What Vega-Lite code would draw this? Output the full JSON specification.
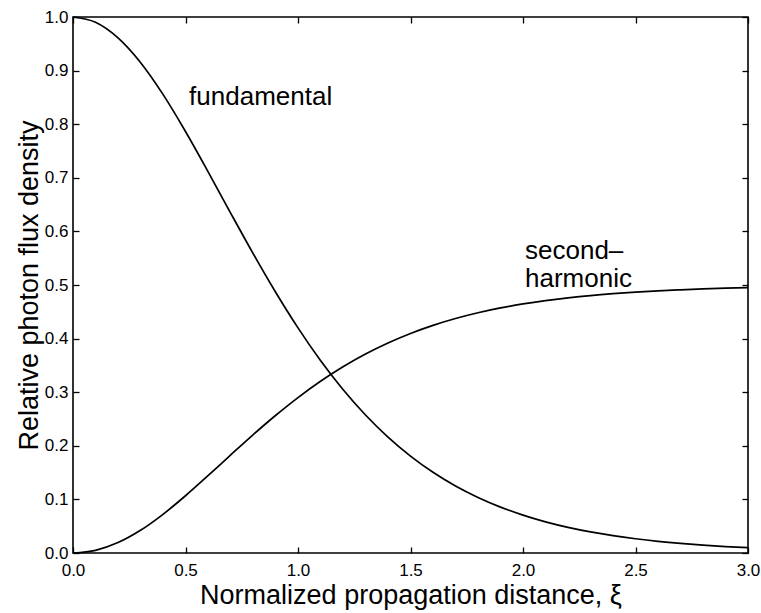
{
  "$schema": "https://vega.github.io/schema/vega-lite/v6.json",
  "autosize": "none",
  "width": 675,
  "height": 536,
  "padding": {"left": 73, "top": 17, "right": 13, "bottom": 60},
  "background": "white",
  "config": {
    "font": "Liberation Sans",
    "view": {"stroke": "black", "strokeWidth": 1.6},
    "axis": {
      "grid": false,
      "domain": false,
      "tickColor": "black",
      "tickWidth": 1.3,
      "tickSize": -6,
      "labelColor": "black",
      "labelFont": "Liberation Sans",
      "labelFontSize": 17,
      "labelFlush": false,
      "labelOverlap": false,
      "titleColor": "black",
      "titleFont": "Liberation Sans",
      "titleFontSize": 27,
      "titleFontWeight": "normal"
    }
  },
  "datasets": {
    "curves": [
      {"xi": 0.0, "value": 1.0, "series": "fundamental"},
      {"xi": 0.1, "value": 0.9901, "series": "fundamental"},
      {"xi": 0.2, "value": 0.961, "series": "fundamental"},
      {"xi": 0.3, "value": 0.9151, "series": "fundamental"},
      {"xi": 0.4, "value": 0.8556, "series": "fundamental"},
      {"xi": 0.5, "value": 0.7864, "series": "fundamental"},
      {"xi": 0.6, "value": 0.7116, "series": "fundamental"},
      {"xi": 0.7, "value": 0.6347, "series": "fundamental"},
      {"xi": 0.8, "value": 0.5591, "series": "fundamental"},
      {"xi": 0.9, "value": 0.4869, "series": "fundamental"},
      {"xi": 1.0, "value": 0.42, "series": "fundamental"},
      {"xi": 1.1, "value": 0.3592, "series": "fundamental"},
      {"xi": 1.2, "value": 0.305, "series": "fundamental"},
      {"xi": 1.3, "value": 0.2574, "series": "fundamental"},
      {"xi": 1.4, "value": 0.2162, "series": "fundamental"},
      {"xi": 1.5, "value": 0.1807, "series": "fundamental"},
      {"xi": 1.6, "value": 0.1505, "series": "fundamental"},
      {"xi": 1.7, "value": 0.125, "series": "fundamental"},
      {"xi": 1.8, "value": 0.1036, "series": "fundamental"},
      {"xi": 1.9, "value": 0.0856, "series": "fundamental"},
      {"xi": 2.0, "value": 0.0707, "series": "fundamental"},
      {"xi": 2.1, "value": 0.0582, "series": "fundamental"},
      {"xi": 2.2, "value": 0.0479, "series": "fundamental"},
      {"xi": 2.3, "value": 0.0394, "series": "fundamental"},
      {"xi": 2.4, "value": 0.0324, "series": "fundamental"},
      {"xi": 2.5, "value": 0.0266, "series": "fundamental"},
      {"xi": 2.6, "value": 0.0218, "series": "fundamental"},
      {"xi": 2.7, "value": 0.0179, "series": "fundamental"},
      {"xi": 2.8, "value": 0.0147, "series": "fundamental"},
      {"xi": 2.9, "value": 0.012, "series": "fundamental"},
      {"xi": 3.0, "value": 0.0099, "series": "fundamental"},
      {"xi": 0.0, "value": 0.0, "series": "second-harmonic"},
      {"xi": 0.1, "value": 0.005, "series": "second-harmonic"},
      {"xi": 0.2, "value": 0.0195, "series": "second-harmonic"},
      {"xi": 0.3, "value": 0.0424, "series": "second-harmonic"},
      {"xi": 0.4, "value": 0.0722, "series": "second-harmonic"},
      {"xi": 0.5, "value": 0.1068, "series": "second-harmonic"},
      {"xi": 0.6, "value": 0.1442, "series": "second-harmonic"},
      {"xi": 0.7, "value": 0.1826, "series": "second-harmonic"},
      {"xi": 0.8, "value": 0.2205, "series": "second-harmonic"},
      {"xi": 0.9, "value": 0.2565, "series": "second-harmonic"},
      {"xi": 1.0, "value": 0.29, "series": "second-harmonic"},
      {"xi": 1.1, "value": 0.3204, "series": "second-harmonic"},
      {"xi": 1.2, "value": 0.3475, "series": "second-harmonic"},
      {"xi": 1.3, "value": 0.3713, "series": "second-harmonic"},
      {"xi": 1.4, "value": 0.3919, "series": "second-harmonic"},
      {"xi": 1.5, "value": 0.4096, "series": "second-harmonic"},
      {"xi": 1.6, "value": 0.4247, "series": "second-harmonic"},
      {"xi": 1.7, "value": 0.4375, "series": "second-harmonic"},
      {"xi": 1.8, "value": 0.4482, "series": "second-harmonic"},
      {"xi": 1.9, "value": 0.4572, "series": "second-harmonic"},
      {"xi": 2.0, "value": 0.4647, "series": "second-harmonic"},
      {"xi": 2.1, "value": 0.4709, "series": "second-harmonic"},
      {"xi": 2.2, "value": 0.476, "series": "second-harmonic"},
      {"xi": 2.3, "value": 0.4803, "series": "second-harmonic"},
      {"xi": 2.4, "value": 0.4838, "series": "second-harmonic"},
      {"xi": 2.5, "value": 0.4867, "series": "second-harmonic"},
      {"xi": 2.6, "value": 0.4891, "series": "second-harmonic"},
      {"xi": 2.7, "value": 0.491, "series": "second-harmonic"},
      {"xi": 2.8, "value": 0.4927, "series": "second-harmonic"},
      {"xi": 2.9, "value": 0.494, "series": "second-harmonic"},
      {"xi": 3.0, "value": 0.4951, "series": "second-harmonic"}
    ],
    "labels": [
      {"xi": 0.516, "value": 0.836, "text": "fundamental"},
      {"xi": 2.009, "value": 0.5485, "text": "second–"},
      {"xi": 2.009, "value": 0.496, "text": "harmonic"}
    ]
  },
  "layer": [
    {
      "data": {"name": "curves"},
      "mark": {"type": "line", "color": "black", "strokeWidth": 1.7, "interpolate": "monotone"},
      "encoding": {
        "x": {
          "field": "xi", "type": "quantitative",
          "scale": {"domain": [0, 3], "nice": false, "zero": false},
          "axis": {"orient": "bottom", "values": [0, 0.5, 1, 1.5, 2, 2.5, 3], "format": ".1f", "labelPadding": 15, "title": "Normalized propagation distance, ξ", "titlePadding": 4}
        },
        "y": {
          "field": "value", "type": "quantitative",
          "scale": {"domain": [0, 1], "nice": false},
          "axis": {"orient": "left", "values": [0, 0.1, 0.2, 0.3, 0.4, 0.5, 0.6, 0.7, 0.8, 0.9, 1.0], "format": ".1f", "labelPadding": 11, "title": "Relative photon flux density", "titlePadding": 1}
        },
        "detail": {"field": "series"}
      }
    },
    {
      "data": {"name": "labels"},
      "mark": {"type": "text", "align": "left", "baseline": "alphabetic", "font": "Liberation Sans", "fontSize": 26, "color": "black"},
      "encoding": {
        "x": {
          "field": "xi", "type": "quantitative",
          "axis": {"orient": "top", "values": [0, 0.5, 1, 1.5, 2, 2.5, 3], "labels": false, "title": null}
        },
        "y": {
          "field": "value", "type": "quantitative",
          "axis": {"orient": "right", "values": [0, 0.1, 0.2, 0.3, 0.4, 0.5, 0.6, 0.7, 0.8, 0.9, 1.0], "labels": false, "title": null}
        },
        "text": {"field": "text"}
      }
    }
  ],
  "resolve": {"axis": {"x": "independent", "y": "independent"}}
}
